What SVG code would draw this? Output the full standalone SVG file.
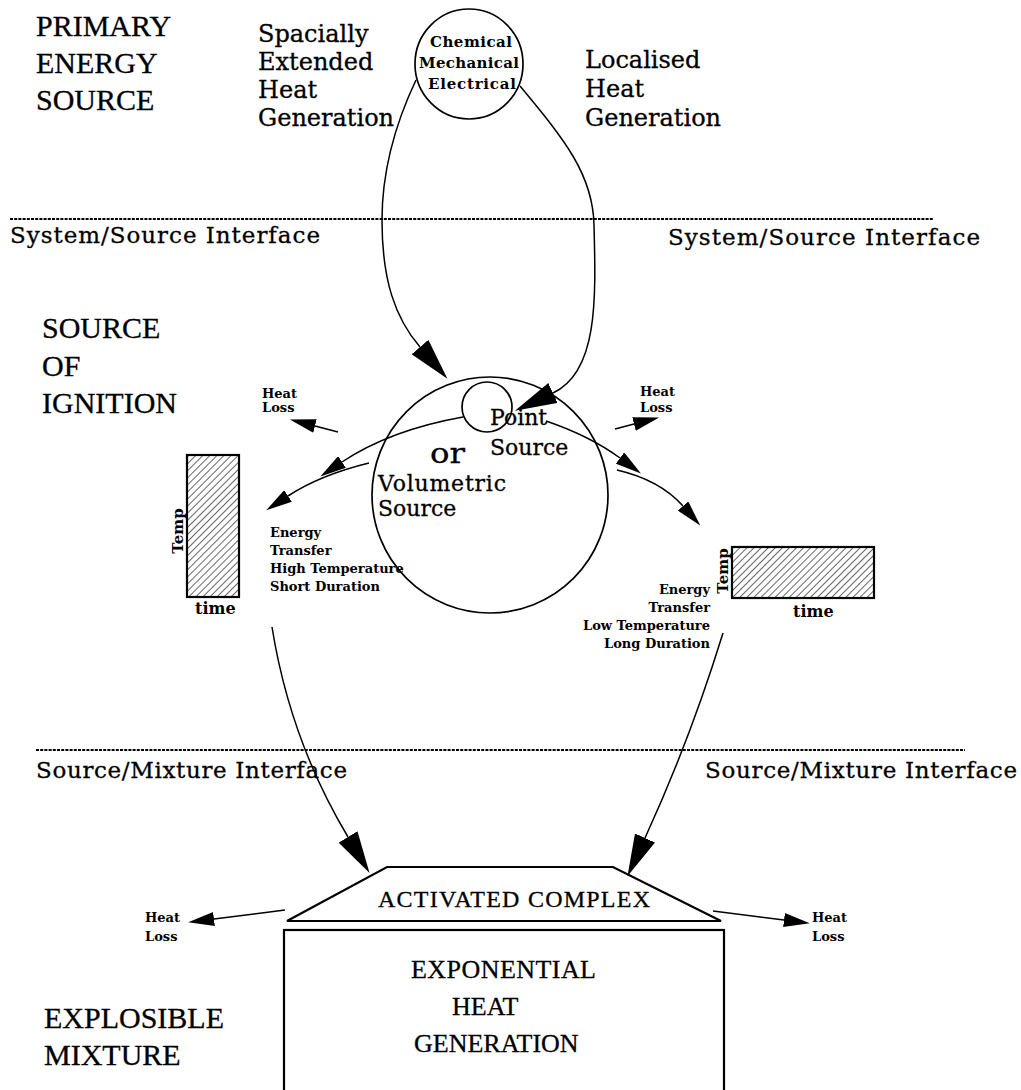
<svg xmlns="http://www.w3.org/2000/svg" width="1021" height="1090" viewBox="0 0 1021 1090">
<style>
.big{font-family:"Liberation Serif","Times New Roman",serif;font-size:30px;fill:#000;stroke:#000;stroke-width:0.3}
.mid{font-family:"DejaVu Serif",serif;font-size:24px;fill:#000;stroke:#000;stroke-width:0.3}
.iface{font-family:"DejaVu Serif",serif;font-size:23px;fill:#000;stroke:#000;stroke-width:0.3}
.sm{font-family:"DejaVu Serif",serif;font-weight:bold;font-size:13px;fill:#000}
.hl{font-family:"DejaVu Serif",serif;font-weight:bold;font-size:13px;fill:#000}
.lbl{font-family:"DejaVu Serif",serif;font-size:22px;fill:#000;stroke:#000;stroke-width:0.3}
.box{font-family:"Liberation Serif",serif;font-size:26px;fill:#000;stroke:#000;stroke-width:0.3}
.shape{fill:none;stroke:#000;stroke-width:1.7}
.thick{fill:#fff;stroke:#000;stroke-width:2.2}
.conn{fill:none;stroke:#000;stroke-width:1.5}
.dots{fill:none;stroke:#000;stroke-width:2;stroke-dasharray:3 1.2}
</style>
<defs>
<marker id="bigArrow" markerUnits="userSpaceOnUse" viewBox="0 0 42 22" refX="0" refY="11" markerWidth="42" markerHeight="22" orient="auto">
<path d="M0,0 L42,11 L0,22 z" fill="#000"/>
</marker>
<marker id="smallArrow" markerUnits="userSpaceOnUse" viewBox="0 0 26 14" refX="0" refY="7" markerWidth="26" markerHeight="14" orient="auto">
<path d="M0,0 L26,7 L0,14 z" fill="#000"/>
</marker>
<pattern id="hatch" patternUnits="userSpaceOnUse" width="5" height="5" patternTransform="rotate(45)">
<line x1="0" y1="0" x2="0" y2="5" stroke="#000" stroke-width="1.2"/>
</pattern>
</defs>
<rect width="1021" height="1090" fill="#fff"/>

<g id="labels">
<text class="big" x="36" y="36">PRIMARY</text>
<text class="big" x="36" y="73">ENERGY</text>
<text class="big" x="36" y="110">SOURCE</text>
<text class="mid" x="258" y="42">Spacially</text>
<text class="mid" x="258" y="70">Extended</text>
<text class="mid" x="258" y="98">Heat</text>
<text class="mid" x="258" y="126">Generation</text>
<text class="mid" x="585" y="68">Localised</text>
<text class="mid" x="585" y="97">Heat</text>
<text class="mid" x="585" y="126">Generation</text>
<text class="iface" x="10" y="243" textLength="310" lengthAdjust="spacing">System/Source Interface</text>
<text class="iface" x="668" y="245" textLength="312" lengthAdjust="spacing">System/Source Interface</text>
<text class="big" x="42" y="338">SOURCE</text>
<text class="big" x="42" y="376">OF</text>
<text class="big" x="42" y="413">IGNITION</text>
<text class="iface" x="36" y="778" textLength="311" lengthAdjust="spacing">Source/Mixture Interface</text>
<text class="iface" x="705" y="778" textLength="312" lengthAdjust="spacing">Source/Mixture Interface</text>
<text class="big" x="44" y="1028">EXPLOSIBLE</text>
<text class="big" x="44" y="1065">MIXTURE</text>
<text class="hl" x="262" y="398">Heat</text>
<text class="hl" x="262" y="412">Loss</text>
<text class="hl" x="640" y="396">Heat</text>
<text class="hl" x="640" y="412">Loss</text>
<text class="hl" x="145" y="922">Heat</text>
<text class="hl" x="145" y="941">Loss</text>
<text class="hl" x="812" y="922">Heat</text>
<text class="hl" x="812" y="941">Loss</text>
<text class="sm" x="270" y="537">Energy</text>
<text class="sm" x="270" y="555">Transfer</text>
<text class="sm" x="270" y="573">High Temperature</text>
<text class="sm" x="270" y="591">Short Duration</text>
<text class="sm" x="710" y="594" text-anchor="end">Energy</text>
<text class="sm" x="710" y="612" text-anchor="end">Transfer</text>
<text class="sm" x="710" y="630" text-anchor="end">Low Temperature</text>
<text class="sm" x="710" y="648" text-anchor="end">Long Duration</text>
</g>

<g id="primary-source">
<ellipse class="shape" cx="469" cy="64" rx="54" ry="55"/>
<text class="sm" x="471" y="47" text-anchor="middle" style="font-size:15px" textLength="82" lengthAdjust="spacing">Chemical</text>
<text class="sm" x="469" y="68" text-anchor="middle" style="font-size:15px" textLength="100" lengthAdjust="spacing">Mechanical</text>
<text class="sm" x="472" y="89" text-anchor="middle" style="font-size:15px" textLength="88" lengthAdjust="spacing">Electrical</text>
</g>

<g id="volumetric-source">
<circle class="shape" cx="490" cy="495" r="118"/>
<text class="lbl" x="430" y="463" style="font-size:28px" textLength="35" lengthAdjust="spacingAndGlyphs">or</text>
<text class="lbl" x="378" y="491" textLength="128" lengthAdjust="spacing">Volumetric</text>
<text class="lbl" x="378" y="516">Source</text>
</g>

<g id="point-source">
<circle class="shape" cx="487" cy="407" r="25"/>
<text class="lbl" x="490" y="425">Point</text>
<text class="lbl" x="490" y="455">Source</text>
</g>

<g id="temp-short">
<rect x="187" y="455" width="52" height="142" fill="url(#hatch)" stroke="#000" stroke-width="2.2"/>
<text class="sm" style="font-size:15px" transform="translate(183,531) rotate(-90)" text-anchor="middle">Temp</text>
<text class="sm" style="font-size:16px" x="195" y="614">time</text>
</g>

<g id="temp-long">
<rect x="732" y="547" width="142" height="51" fill="url(#hatch)" stroke="#000" stroke-width="2.2"/>
<text class="sm" style="font-size:15px" transform="translate(728,571) rotate(-90)" text-anchor="middle">Temp</text>
<text class="sm" style="font-size:16px" x="793" y="617">time</text>
</g>

<g id="activated-complex">
<polygon class="thick" points="387,867 613,867 721,921 287,921"/>
<text class="box" style="font-size:24px" x="378" y="907" textLength="272" lengthAdjust="spacing">ACTIVATED COMPLEX</text>
</g>

<g id="exponential-heat">
<rect class="thick" x="284" y="930" width="440" height="170"/>
<text class="box" x="411" y="978" textLength="185" lengthAdjust="spacing">EXPONENTIAL</text>
<text class="box" x="452" y="1015">HEAT</text>
<text class="box" x="414" y="1052">GENERATION</text>
</g>

<g id="interfaces">
<line class="dots" x1="10" y1="219" x2="934" y2="219"/>
<line class="dots" x1="36" y1="750" x2="965" y2="750"/>
</g>

<g id="connectors">
<path class="conn" d="M416 80 C398 118 382 165 382 220 C382 280 395 318 420 347" marker-end="url(#bigArrow)"/>
<path class="conn" d="M520 86 C565 140 593 175 594 225 C596 300 598 372 553 393" marker-end="url(#bigArrow)"/>
<path class="conn" d="M463 417 Q390 430 342 462" marker-end="url(#smallArrow)"/>
<path class="conn" d="M369 463 Q320 475 288 496" marker-end="url(#smallArrow)"/>
<path class="conn" d="M546 421 Q590 436 620 458" marker-end="url(#smallArrow)"/>
<path class="conn" d="M617 470 Q660 480 683 506" marker-end="url(#smallArrow)"/>
<path class="conn" d="M338 432 L315 426" marker-end="url(#smallArrow)"/>
<path class="conn" d="M615 429 L634 424" marker-end="url(#smallArrow)"/>
<path class="conn" d="M272 627 Q290 740 348 837" marker-end="url(#bigArrow)"/>
<path class="conn" d="M723 633 Q690 740 645 838" marker-end="url(#bigArrow)"/>
<path class="conn" d="M285 910 L214 919" marker-end="url(#smallArrow)"/>
<path class="conn" d="M713 911 L784 920" marker-end="url(#smallArrow)"/>
</g>
</svg>
